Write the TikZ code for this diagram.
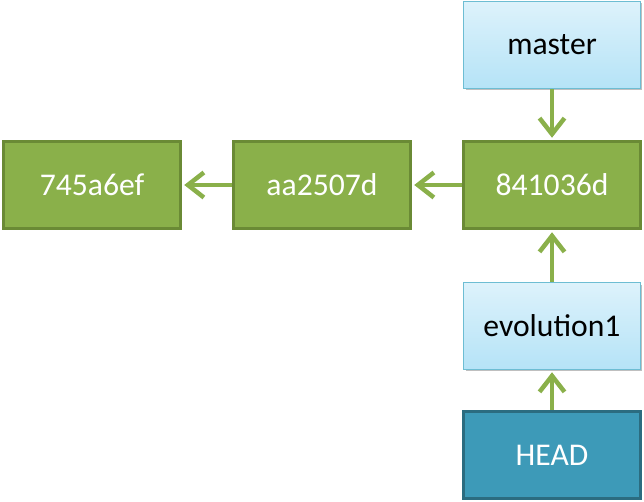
\documentclass[tikz,border=0pt]{standalone}
\usepackage{fontspec}
\setmainfont{Carlito}
\usetikzlibrary{positioning,arrows.meta,shadows}
\definecolor{commitfill}{HTML}{8AB04A}
\definecolor{commitline}{HTML}{6A8A35}
\definecolor{branchtop}{HTML}{DDF2FB}
\definecolor{branchbot}{HTML}{B5E3F7}
\definecolor{branchline}{HTML}{6DBDD3}
\definecolor{headfill}{HTML}{3D9AB8}
\definecolor{headline}{HTML}{2B6C80}
\definecolor{ptrcolor}{HTML}{8AB04A}
\tikzset{
  box/.style={rectangle,minimum width=3.54cm,minimum height=1.74cm,inner sep=0pt,
    font=\fontsize{18}{21}\selectfont,
    drop shadow={shadow xshift=0.04cm,shadow yshift=-0.04cm,opacity=0.25,fill=black}},
  commit/.style={box,fill=commitfill,draw=commitline,line width=0.07cm,text=white},
  branch/.style={box,top color=branchtop,bottom color=branchbot,draw=branchline,line width=0.03cm,text=black},
  headref/.style={box,fill=headfill,draw=headline,line width=0.07cm,text=white},
  ptr/.style={draw=ptrcolor,line width=0.09cm,shorten >=0.04cm,
    -{Straight Barb[length=0.32cm,width=0.5cm]}}
}

\begin{document}
\begin{tikzpicture}[x=0.02cm,y=-0.02cm]
\useasboundingbox (0,0) rectangle (644,502);
% commits
\node[commit] (c841) at (552,185) {841036d};
\node[commit] (caa2) at (322,185) {aa2507d};
\node[commit] (c745) at (92,185) {745a6ef};
% refs
\node[branch] (master) at (552,45) {master};
\node[branch] (evo) at (552,326) {evolution1};
\node[headref] (head) at (552,455) {HEAD};
% pointers
\draw[ptr] (caa2) -- (c745);
\draw[ptr] (c841) -- (caa2);
\draw[ptr] (master) -- (c841);
\draw[ptr] (evo) -- (c841);
\draw[ptr] (head) -- (evo);
\end{tikzpicture}
\end{document}
